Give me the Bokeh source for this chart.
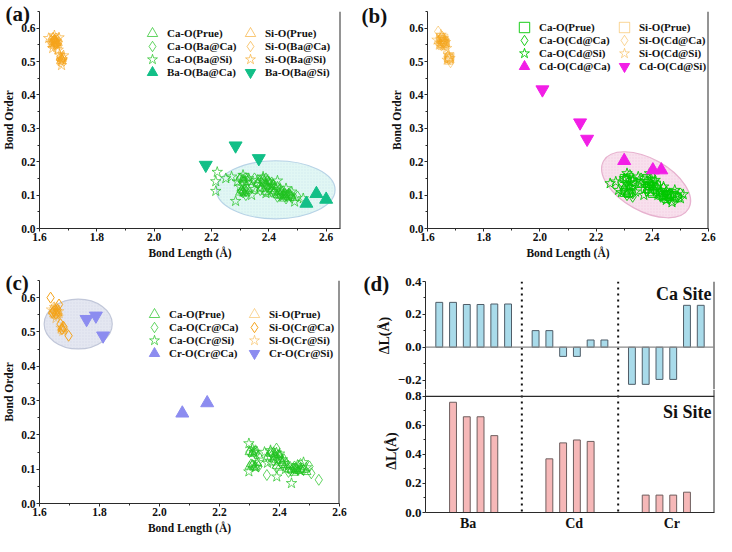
from bokeh.plotting import figure
from bokeh.models import (Range1d, FixedTicker, Legend, LegendItem, Label, Span, Title,
                          NumeralTickFormatter)
from bokeh.layouts import row, column
from bokeh.embed import file_html
from bokeh.resources import INLINE

FONT = "Liberation Serif"

# ---------------- data ----------------
bond_len_ticks = [1.6, 1.8, 2.0, 2.2, 2.4, 2.6]
bond_order_ticks = [0.0, 0.1, 0.2, 0.3, 0.4, 0.5, 0.6]

# pure structure (shared by a, b, c)
prue_ca_x = [2.30, 2.31, 2.32, 2.33, 2.31, 2.32, 2.36, 2.37, 2.38, 2.39, 2.40, 2.41,
             2.39, 2.40, 2.42, 2.43, 2.44, 2.45, 2.46, 2.47, 2.48, 2.49, 2.45, 2.47,
             2.305, 2.315, 2.325, 2.30, 2.31, 2.385, 2.395, 2.405, 2.415, 2.375, 2.435, 2.455]
prue_ca_y = [0.150, 0.145, 0.152, 0.140, 0.112, 0.108, 0.135, 0.145, 0.150, 0.128, 0.140, 0.118,
             0.110, 0.105, 0.112, 0.100, 0.098, 0.102, 0.095, 0.100, 0.098, 0.092, 0.090, 0.105,
             0.115, 0.105, 0.118, 0.108, 0.148, 0.135, 0.142, 0.125, 0.130, 0.120, 0.108, 0.100]
prue_si_x = [1.645, 1.650, 1.655, 1.660, 1.648, 1.658, 1.662, 1.652, 1.656, 1.664, 1.674, 1.678, 1.676, 1.680,
             1.653, 1.659, 1.647, 1.677]
prue_si_y = [0.560, 0.565, 0.555, 0.560, 0.552, 0.570, 0.550, 0.548, 0.562, 0.556, 0.512, 0.508, 0.504, 0.515,
             0.566, 0.554, 0.572, 0.510]

# (a) Ba doping
a_ca_baca_x = [2.30, 2.31, 2.32, 2.33, 2.34, 2.35, 2.36, 2.37, 2.38, 2.39, 2.40, 2.41, 2.42, 2.43,
               2.44, 2.45, 2.46, 2.47, 2.48, 2.50, 2.31, 2.32, 2.37, 2.39, 2.41, 2.43, 2.44, 2.46,
               2.305, 2.315, 2.395, 2.405, 2.385, 2.425, 2.455, 2.475]
a_ca_baca_y = [0.150, 0.138, 0.112, 0.145, 0.122, 0.150, 0.135, 0.128, 0.145, 0.132, 0.118, 0.138, 0.108, 0.125,
               0.100, 0.112, 0.098, 0.104, 0.092, 0.096, 0.108, 0.100, 0.115, 0.150, 0.110, 0.095, 0.118, 0.090,
               0.112, 0.118, 0.125, 0.135, 0.140, 0.115, 0.105, 0.098]
a_ca_basi_x = [2.22, 2.215, 2.215, 2.25, 2.27, 2.284, 2.29, 2.31, 2.33, 2.35, 2.36, 2.38, 2.40,
               2.42, 2.43, 2.44, 2.46, 2.47, 2.49, 2.52, 2.34, 2.39, 2.45, 2.48, 2.30,
               2.32, 2.37, 2.41, 2.44, 2.31]
a_ca_basi_y = [0.169, 0.141, 0.112, 0.150, 0.155, 0.082, 0.140, 0.160, 0.150, 0.118, 0.145, 0.155, 0.140,
               0.125, 0.143, 0.112, 0.120, 0.095, 0.080, 0.090, 0.100, 0.105, 0.098, 0.110, 0.125,
               0.140, 0.122, 0.128, 0.105, 0.110]
a_si_baca_x = [1.640, 1.648, 1.655, 1.662, 1.650, 1.658, 1.668, 1.672, 1.678, 1.682, 1.675, 1.652, 1.660]
a_si_baca_y = [0.565, 0.572, 0.558, 0.566, 0.545, 0.550, 0.560, 0.515, 0.505, 0.512, 0.498, 0.560, 0.556]
a_si_basi_x = [1.632, 1.642, 1.652, 1.660, 1.668, 1.646, 1.656, 1.670, 1.676, 1.684, 1.677, 1.665, 1.650, 1.680]
a_si_basi_y = [0.570, 0.555, 0.578, 0.548, 0.572, 0.540, 0.562, 0.520, 0.500, 0.518, 0.489, 0.535, 0.562, 0.506]
a_ba_baca_x = [2.531, 2.566, 2.600]
a_ba_baca_y = [0.075, 0.104, 0.087]
a_ba_basi_x = [2.180, 2.284, 2.365]
a_ba_basi_y = [0.190, 0.248, 0.210]
a_ell = dict(x=[2.424], y=[0.116], w=[0.414], h=[0.174], angle=[0.0])

# (b) Cd doping
b_ca_cdca_x = [2.29, 2.30, 2.32, 2.33, 2.34, 2.31, 2.36, 2.38, 2.39, 2.40, 2.41, 2.42, 2.43, 2.45,
               2.46, 2.47, 2.49, 2.50, 2.33, 2.38, 2.44, 2.48, 2.315, 2.395, 2.405, 2.455]
b_ca_cdca_y = [0.140, 0.118, 0.160, 0.105, 0.135, 0.100, 0.150, 0.140, 0.120, 0.155, 0.108, 0.130, 0.095, 0.110,
               0.088, 0.100, 0.095, 0.105, 0.095, 0.112, 0.120, 0.085, 0.128, 0.132, 0.118, 0.098]
b_ca_cdsi_x = [2.25, 2.27, 2.28, 2.30, 2.31, 2.32, 2.34, 2.35, 2.36, 2.37, 2.39, 2.40, 2.41, 2.43,
               2.44, 2.45, 2.46, 2.48, 2.50, 2.51, 2.29, 2.33, 2.42, 2.47, 2.32, 2.38, 2.44]
b_ca_cdsi_y = [0.135, 0.140, 0.115, 0.150, 0.165, 0.125, 0.110, 0.155, 0.135, 0.100, 0.165, 0.130, 0.145, 0.110,
               0.125, 0.085, 0.105, 0.115, 0.090, 0.102, 0.108, 0.145, 0.100, 0.078, 0.138, 0.125, 0.095]
b_si_cdca_x = [1.638, 1.645, 1.652, 1.660, 1.666, 1.650, 1.672, 1.682, 1.676]
b_si_cdca_y = [0.590, 0.568, 0.575, 0.560, 0.548, 0.548, 0.515, 0.498, 0.508]
b_si_cdsi_x = [1.634, 1.642, 1.648, 1.656, 1.664, 1.668, 1.646, 1.674, 1.680, 1.670, 1.658]
b_si_cdsi_y = [0.565, 0.550, 0.580, 0.570, 0.558, 0.540, 0.556, 0.520, 0.510, 0.505, 0.562]
b_cd_cdca_x = [2.300, 2.402, 2.432]
b_cd_cdca_y = [0.203, 0.175, 0.175]
b_cd_cdsi_x = [2.009, 2.143, 2.168]
b_cd_cdsi_y = [0.416, 0.317, 0.268]
b_ell = dict(x=[2.378], y=[0.131], w=[0.347], h=[0.157], angle=[-0.51])

# (c) Cr doping
c_ca_crca_x = [2.30, 2.31, 2.32, 2.33, 2.36, 2.358, 2.37, 2.38, 2.39, 2.40, 2.41, 2.42, 2.44, 2.45,
               2.46, 2.47, 2.48, 2.50, 2.506, 2.531, 2.32, 2.39, 2.43, 2.385, 2.395, 2.455]
c_ca_crca_y = [0.150, 0.112, 0.155, 0.108, 0.135, 0.083, 0.150, 0.125, 0.160, 0.138, 0.112, 0.118, 0.095, 0.108,
               0.100, 0.115, 0.098, 0.108, 0.088, 0.069, 0.145, 0.105, 0.092, 0.140, 0.130, 0.102]
c_ca_crsi_x = [2.298, 2.298, 2.31, 2.33, 2.35, 2.37, 2.38, 2.391, 2.40, 2.41, 2.43, 2.44, 2.45, 2.46,
               2.47, 2.48, 2.49, 2.32, 2.36, 2.42, 2.315, 2.39]
c_ca_crsi_y = [0.175, 0.093, 0.160, 0.120, 0.150, 0.155, 0.135, 0.078, 0.145, 0.128, 0.110, 0.059, 0.100, 0.112,
               0.095, 0.120, 0.105, 0.105, 0.118, 0.100, 0.150, 0.148]
c_si_crca_x = [1.637, 1.665, 1.648, 1.655, 1.660, 1.670, 1.675, 1.680, 1.697, 1.643]
c_si_crca_y = [0.600, 0.580, 0.561, 0.552, 0.565, 0.523, 0.508, 0.515, 0.489, 0.556]
c_si_crsi_x = [1.640, 1.650, 1.658, 1.664, 1.672, 1.678, 1.655]
c_si_crsi_y = [0.565, 0.572, 0.548, 0.560, 0.512, 0.503, 0.540]
c_cr_crca_x = [2.076, 2.159]
c_cr_crca_y = [0.263, 0.293]
c_cr_crsi_x = [1.757, 1.788, 1.812]
c_cr_crsi_y = [0.537, 0.547, 0.489]
c_ell = dict(x=[1.729], y=[0.523], w=[0.227], h=[0.145], angle=[0.0])

# (d) bond length change
dopants = ["Ba", "Cd", "Cr"]
ca_site_ba = [0.273, 0.273, 0.260, 0.260, 0.263, 0.263]
ca_site_cd = [0.101, 0.101, -0.056, -0.056, 0.044, 0.044]
ca_site_cr = [-0.226, -0.226, -0.196, -0.196, 0.255, 0.255]
si_site_ba = [0.76, 0.66, 0.66, 0.53]
si_site_cd = [0.37, 0.48, 0.50, 0.49]
si_site_cr = [0.12, 0.12, 0.12, 0.14]
dL_top_ticks = [-0.2, 0.0, 0.2, 0.4]
dL_bot_ticks = [0.0, 0.2, 0.4, 0.6, 0.8]

# ---------------- styles ----------------
GREEN = "#1fc21f"
GREEN_B = "#00c800"
ORANGE = "#f5a31a"
TEAL = "#12bf87"
MAGENTA = "#f21ee6"
PERI = "#8c8cf0"
AXC = "#2a2a2a"


def style_axis(ax, tick_fs, lab_fs):
    ax.axis_line_color = AXC
    ax.major_tick_line_color = AXC
    ax.minor_tick_line_color = AXC
    ax.major_tick_out = 3
    ax.major_tick_in = 0
    ax.minor_tick_out = 2
    ax.minor_tick_in = 0
    ax.major_label_text_font = FONT
    ax.major_label_text_font_style = "bold"
    ax.major_label_text_font_size = tick_fs
    ax.major_label_text_color = "#111111"
    ax.axis_label_text_font = FONT
    ax.axis_label_text_font_style = "bold"
    ax.axis_label_text_font_size = lab_fs
    ax.axis_label_text_color = "#111111"
    ax.major_label_standoff = 1
    ax.axis_label_standoff = 3


def right_line(p, xpos):
    p.add_layout(Span(location=xpos, dimension="height", line_color=AXC, line_width=2))


def mids(t):
    return [(t[i] + t[i + 1]) / 2 for i in range(len(t) - 1)]


def letter(p, txt, offset, standoff):
    p.add_layout(Title(text=txt, align="left", offset=offset, standoff=standoff,
                       text_font=FONT, text_font_style="bold", text_font_size="21px",
                       text_line_height=1.0, text_color="#111111", vertical_align="bottom"), "above")


def scatter_fig(x_end, mb):
    p = figure(width=358, height=268, x_range=Range1d(1.6, x_end), y_range=Range1d(0, 0.65),
               output_backend="svg", toolbar_location=None,
               min_border_left=mb[0], min_border_right=mb[1], min_border_top=mb[2], min_border_bottom=mb[3])
    p.grid.visible = False
    p.outline_line_color = None
    p.xaxis.ticker = FixedTicker(ticks=bond_len_ticks, minor_ticks=mids(bond_len_ticks))
    p.yaxis.ticker = FixedTicker(ticks=bond_order_ticks, minor_ticks=mids(bond_order_ticks) + [0.65])
    p.xaxis.formatter = NumeralTickFormatter(format="0.0")
    p.yaxis.formatter = NumeralTickFormatter(format="0.0")
    style_axis(p.xaxis[0], "11.5px", "11.5px")
    style_axis(p.yaxis[0], "11.5px", "11.5px")
    p.xaxis.axis_label = "Bond Length (Å)"
    p.yaxis.axis_label = "Bond Order"
    right_line(p, x_end)
    return p


def ellipse(p, e, fill, line):
    p.ellipse(x=e["x"], y=e["y"], width=e["w"], height=e["h"], angle=e["angle"],
              fill_color=fill, fill_alpha=0.85, line_color=line, line_width=1.2,
              hatch_pattern="dot", hatch_scale=3, hatch_color=line, hatch_alpha=0.35)


def pts(p, x, y, marker, color, size=9, filled=False, alpha=1.0, lw=1.0):
    if filled:
        return p.scatter(x, y, marker=marker, size=size, fill_color=color, line_color=color,
                         fill_alpha=alpha, line_alpha=alpha)
    return p.scatter(x, y, marker=marker, size=size, fill_color=None, line_color=color,
                     line_alpha=alpha, line_width=lw)


ROW_OFFSETS = [13, 26, 39, 52]   # legend row centres, px below the frame top


def add_legend(p, items, x, frame_h, top_shift=0):
    # one small legend per entry, so that large marker glyphs can sit 13 px apart
    for (lab, r), off in zip(items, ROW_OFFSETS):
        yb = frame_h - (off + top_shift) - 13
        leg = Legend(items=[LegendItem(label=lab, renderers=[r])],
                     location=(x, yb), orientation="vertical",
                     glyph_width=26, glyph_height=26, label_height=13, spacing=0,
                     padding=0, margin=0, border_line_color=None, background_fill_alpha=0,
                     label_standoff=2, label_text_font=FONT, label_text_font_style="bold",
                     label_text_font_size="11px", label_text_color="#111111")
        p.add_layout(leg)


# ---------------- (a) ----------------
A_MB = (36, 18, 11, 33)
HA = 204   # plotting-area height that the layout ends up with
pa = scatter_fig(2.65, A_MB)
ellipse(pa, a_ell, "#dcf6f2", "#b7d3e6")
r_a1 = pts(pa, prue_ca_x, prue_ca_y, "triangle", GREEN, 9, alpha=0.7)
r_a2 = pts(pa, a_ca_baca_x, a_ca_baca_y, "diamond", GREEN, 11, alpha=0.7)
r_a3 = pts(pa, a_ca_basi_x, a_ca_basi_y, "star", GREEN, 11, alpha=0.7)
r_a5 = pts(pa, prue_si_x, prue_si_y, "triangle", ORANGE, 9, alpha=0.6)
r_a6 = pts(pa, a_si_baca_x, a_si_baca_y, "diamond", ORANGE, 10, alpha=0.6)
r_a7 = pts(pa, a_si_basi_x, a_si_basi_y, "star", ORANGE, 11, alpha=0.6)
r_a4 = pts(pa, a_ba_baca_x, a_ba_baca_y, "triangle", TEAL, 13, filled=True)
r_a8 = pts(pa, a_ba_basi_x, a_ba_basi_y, "inverted_triangle", TEAL, 13, filled=True)
add_legend(pa, [("Ca-O(Prue)", r_a1), ("Ca-O(Ba@Ca)", r_a2), ("Ca-O(Ba@Si)", r_a3), ("Ba-O(Ba@Ca)", r_a4)], 100, HA, -4)
add_legend(pa, [("Si-O(Prue)", r_a5), ("Si-O(Ba@Ca)", r_a6), ("Si-O(Ba@Si)", r_a7), ("Ba-O(Ba@Si)", r_a8)], 198, HA, -4)
letter(pa, "(a)", -34, -28)

# ---------------- (b) ----------------
B_MB = (69, 8, 6, 40)
HB = 213
pb = scatter_fig(2.6, B_MB)
ellipse(pb, b_ell, "#f7dbea", "#e7b2cf")
r_b1 = pts(pb, prue_ca_x, prue_ca_y, "square", GREEN_B, 8, alpha=0.9)
r_b2 = pts(pb, b_ca_cdca_x, b_ca_cdca_y, "diamond", GREEN_B, 11, alpha=0.9)
r_b3 = pts(pb, b_ca_cdsi_x, b_ca_cdsi_y, "star", GREEN_B, 11, alpha=0.9)
r_b5 = pts(pb, prue_si_x, prue_si_y, "square", ORANGE, 8, alpha=0.45)
r_b6 = pts(pb, b_si_cdca_x, b_si_cdca_y, "diamond", ORANGE, 11, alpha=0.45)
r_b7 = pts(pb, b_si_cdsi_x, b_si_cdsi_y, "star", ORANGE, 11, alpha=0.45)
r_b4 = pts(pb, b_cd_cdca_x, b_cd_cdca_y, "triangle", MAGENTA, 13, filled=True)
r_b8 = pts(pb, b_cd_cdsi_x, b_cd_cdsi_y, "inverted_triangle", MAGENTA, 13, filled=True)
add_legend(pb, [("Ca-O(Prue)", r_b1), ("Ca-O(Cd@Ca)", r_b2), ("Ca-O(Cd@Si)", r_b3), ("Cd-O(Cd@Ca)", r_b4)], 84, HB, -1)
add_legend(pb, [("Si-O(Prue)", r_b5), ("Si-O(Cd@Ca)", r_b6), ("Si-O(Cd@Si)", r_b7), ("Cd-O(Cd@Si)", r_b8)], 184, HB, -1)
letter(pb, "(b)", -66, -32)

# ---------------- (c) ----------------
C_MB = (34, 19, 12, 32)
HC = 208
pc = scatter_fig(2.6, C_MB)
ellipse(pc, c_ell, "#dfe3ef", "#c1c7d9")
r_c1 = pts(pc, prue_ca_x, prue_ca_y, "triangle", GREEN, 9, alpha=0.7)
r_c2 = pts(pc, c_ca_crca_x, c_ca_crca_y, "diamond", GREEN, 11, alpha=0.7)
r_c3 = pts(pc, c_ca_crsi_x, c_ca_crsi_y, "star", GREEN, 11, alpha=0.7)
r_c5 = pts(pc, prue_si_x, prue_si_y, "triangle", ORANGE, 9, alpha=0.45)
r_c6 = pts(pc, c_si_crca_x, c_si_crca_y, "diamond", ORANGE, 11, alpha=1.0)
r_c7 = pts(pc, c_si_crsi_x, c_si_crsi_y, "star", ORANGE, 11, alpha=0.45)
r_c4 = pts(pc, c_cr_crca_x, c_cr_crca_y, "triangle", PERI, 13, filled=True)
r_c8 = pts(pc, c_cr_crsi_x, c_cr_crsi_y, "inverted_triangle", PERI, 13, filled=True)
add_legend(pc, [("Ca-O(Prue)", r_c1), ("Ca-O(Cr@Ca)", r_c2), ("Ca-O(Cr@Si)", r_c3), ("Cr-O(Cr@Ca)", r_c4)], 102, HC, 6)
add_legend(pc, [("Si-O(Prue)", r_c5), ("Si-O(Cr@Ca)", r_c6), ("Si-O(Cr@Si)", r_c7), ("Cr-O(Cr@Si)", r_c8)], 202, HC, 6)
letter(pc, "(c)", -34, -28)

# ---------------- (d) ----------------
group_step = 7
ca_vals = ca_site_ba + ca_site_cd + ca_site_cr
ca_pos = [g * group_step + i for g in range(3) for i in range(6)]
si_vals = si_site_ba + si_site_cd + si_site_cr
si_pos = [g * group_step + 1 + i for g in range(3) for i in range(4)]
label_pos = [2.1, 9.8, 16.9]
sep_pos = [6, 13]

dx = Range1d(-1, 20)
pd1 = figure(width=358, height=121, x_range=dx, y_range=Range1d(-0.2574, 0.4),
             output_backend="svg", toolbar_location=None, x_axis_location=None,
             min_border_left=67, min_border_right=2, min_border_top=13, min_border_bottom=0)
pd2 = figure(width=358, height=147, x_range=dx, y_range=Range1d(0, 0.848),
             output_backend="svg", toolbar_location=None,
             min_border_left=67, min_border_right=2, min_border_top=0, min_border_bottom=24)
for p in (pd1, pd2):
    p.grid.visible = False
    p.outline_line_color = None
    style_axis(p.yaxis[0], "13px", "14px")
    p.yaxis.axis_label = "ΔL(Å)"
    p.yaxis.formatter = NumeralTickFormatter(format="0.0")
    right_line(p, 20)
    for s in sep_pos:
        p.add_layout(Span(location=s, dimension="height", line_color="#111111",
                          line_width=2, line_dash="2 4"))

pd1.yaxis.ticker = FixedTicker(ticks=dL_top_ticks, minor_ticks=mids(dL_top_ticks))
pd1.yaxis.major_label_overrides = {-0.2: "\u22120.2"}
pd1.add_layout(Span(location=0, dimension="width", line_color="#8a8a8a", line_width=1.2))
pd1.vbar(x=ca_pos, top=ca_vals, bottom=0, width=0.5, fill_color="#a9dbea", line_color="#4f5d68", line_width=1)
pd1.add_layout(Label(x=286, y=96, x_units="screen", y_units="screen", text="Ca Site",
                     text_font=FONT, text_font_style="bold", text_font_size="18px",
                     text_align="right", text_baseline="middle", text_color="#111111"))
letter(pd1, "(d)", -62, -28)

pd2.yaxis.ticker = FixedTicker(ticks=dL_bot_ticks, minor_ticks=mids(dL_bot_ticks))
pd2.add_layout(Span(location=0.8, dimension="width", line_color=AXC, line_width=1.2))
pd2.vbar(x=si_pos, top=si_vals, bottom=0, width=0.5, fill_color="#f6b8b8", line_color="#6e5e5e", line_width=1)
pd2.xaxis.ticker = FixedTicker(ticks=label_pos)
pd2.xaxis.major_label_overrides = {label_pos[i]: dopants[i] for i in range(3)}
style_axis(pd2.xaxis[0], "14px", "12px")
pd2.xaxis.major_tick_out = 0
pd2.xaxis.minor_tick_out = 0
pd2.xaxis.major_label_standoff = 3
pd2.add_layout(Label(x=286, y=101, x_units="screen", y_units="screen", text="Si Site",
                     text_font=FONT, text_font_style="bold", text_font_size="18px",
                     text_align="right", text_baseline="middle", text_color="#111111"))

layout = column(row(pa, pb), row(pc, column(pd1, pd2)))
open("out.html", "w").write(file_html(layout, INLINE))
